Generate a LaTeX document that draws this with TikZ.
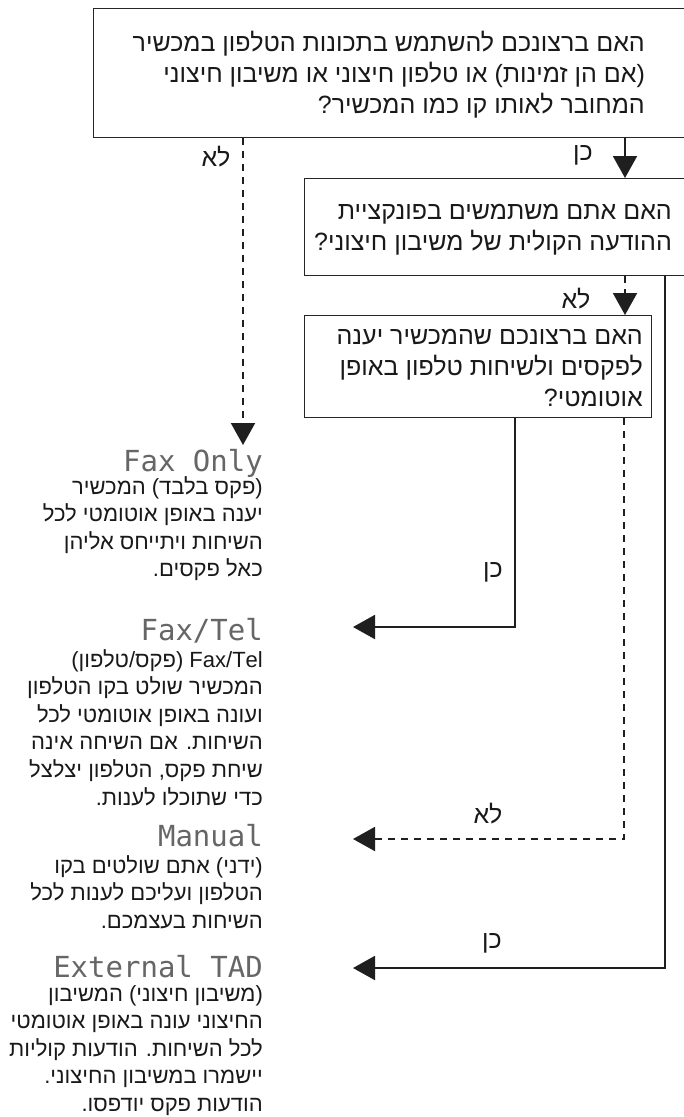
\documentclass[tikz,border=0pt]{standalone}
\usepackage{fontspec}
\setmainfont{Liberation Sans}
\newfontfamily\heb[Script=Hebrew]{Liberation Sans}
\newfontfamily\lcd{DejaVu Sans Mono}
\TeXXeTstate=1
\usetikzlibrary{arrows.meta,calc}
\begin{document}
\begin{tikzpicture}[x=1pt,y=-1pt,
  qbox/.style={draw=black!85, line width=1.1pt, rectangle, inner sep=0pt, anchor=north west},
  boxtxt/.style={font=\heb\fontsize{25}{31}\selectfont, align=right, inner sep=0pt, anchor=north east, text=black!90},
  bodytxt/.style={font=\heb\fontsize{22}{27.6}\selectfont, align=right, inner sep=0pt, anchor=north east, text=black!90},
  lcdtxt/.style={font=\lcd\fontsize{29}{29}\selectfont, text=black!60, inner sep=0pt, anchor=base east},
  lbl/.style={font=\heb\fontsize{25}{25}\selectfont, inner sep=0pt, text=black!90},
  yesarrow/.style={line width=2pt, draw=black!88, -{Triangle[length=22pt,width=24pt,fill=black!88]}},
  noarrow/.style={yesarrow, dash pattern=on 7pt off 6pt}
]
\useasboundingbox (0,0) rectangle (684,1117);
\fill[white] (0,0) rectangle (684,1117);

% question boxes
\node[qbox, minimum width=620pt, minimum height=129pt] (b1) at (93,8) {};
\node[qbox, minimum width=420pt, minimum height=97pt] (b2) at (304,178) {};
\node[qbox, minimum width=347pt, minimum height=102pt] (b3) at (304,315) {};

\node[boxtxt] (t1) at (645,31) {\beginR האם ברצונכם להשתמש בתכונות הטלפון במכשיר\endR\\
\beginR (אם הן זמינות) או טלפון חיצוני או משיבון חיצוני\endR\\
\beginR המחובר לאותו קו כמו המכשיר?\endR};
\node[boxtxt] (t2) at (672,204) {\beginR האם אתם משתמשים בפונקציית\endR\\
\beginR ההודעה הקולית של משיבון חיצוני?\endR};
\node[boxtxt] (t3) at (643,329) {\beginR האם ברצונכם שהמכשיר יענה\endR\\
\beginR לפקסים ולשיחות טלפון באופן\endR\\
\beginR אוטומטי?\endR};

% result column
\node[lcdtxt] (h1) at (263,471) {Fax Only};
\node[bodytxt] (d1) at (263,476) {\beginR (פקס בלבד) המכשיר\endR\\
\beginR יענה באופן אוטומטי לכל\endR\\
\beginR השיחות ויתייחס אליהן\endR\\
\beginR כאל פקסים.\endR};

\node[lcdtxt] (h2) at (263,640) {Fax/Tel};
\node[bodytxt] (d2) at (263,649) {\beginR\beginL Fax/Tel\endL{} (פקס/טלפון)\endR\\
\beginR המכשיר שולט בקו הטלפון\endR\\
\beginR ועונה באופן אוטומטי לכל\endR\\
\beginR השיחות. אם השיחה אינה\endR\\
\beginR שיחת פקס, הטלפון יצלצל\endR\\
\beginR כדי שתוכלו לענות.\endR};

\node[lcdtxt] (h3) at (263,846) {Manual};
\node[bodytxt] (d3) at (263,855) {\beginR (ידני) אתם שולטים בקו\endR\\
\beginR הטלפון ועליכם לענות לכל\endR\\
\beginR השיחות בעצמכם.\endR};

\node[lcdtxt] (h4) at (263,977) {External TAD};
\node[bodytxt] (d4) at (263,985) {\beginR (משיבון חיצוני) המשיבון\endR\\
\beginR החיצוני עונה באופן אוטומטי\endR\\
\beginR לכל השיחות. הודעות קוליות\endR\\
\beginR יישמרו במשיבון החיצוני.\endR\\
\beginR הודעות פקס יודפסו.\endR};

% free ends of connectors
\coordinate (e1) at (243,445);
\coordinate (e2) at (353,627);
\coordinate (e3) at (353,839);
\coordinate (e4) at (353,968);

% connectors
\draw[yesarrow] (b1.south -| 625,0) -- (b2.north -| 625,0);
\draw[noarrow] (b1.south -| 243,0) -- (e1);
\draw[noarrow] (b2.south -| 625,0) -- (b3.north -| 625,0);
\draw[yesarrow] (b2.south -| 665,0) |- (e4);
\draw[yesarrow] (b3.south -| 515,0) |- (e2);
\draw[noarrow] (b3.south -| 624,0) |- (e3);

% connector labels
\node[lbl] (l1) at (583,155) {כן};
\node[lbl] (l2) at (216,157) {לא};
\node[lbl] (l3) at (576,299) {לא};
\node[lbl] (l4) at (493,572) {כן};
\node[lbl] (l5) at (488,814) {לא};
\node[lbl] (l6) at (492,943) {כן};
\end{tikzpicture}
\end{document}
